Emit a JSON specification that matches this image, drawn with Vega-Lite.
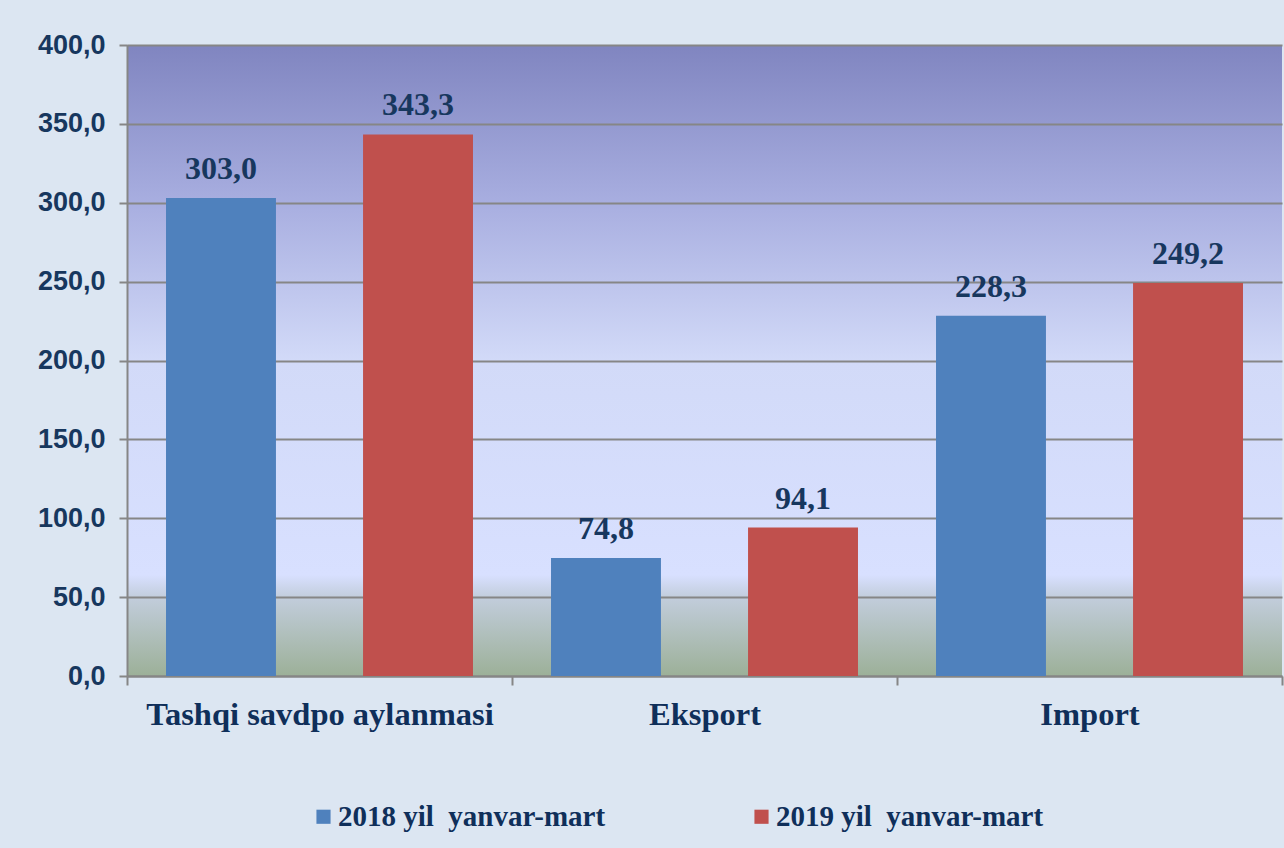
{
  "$schema": "https://vega.github.io/schema/vega-lite/v6.json",
  "width": 1155,
  "height": 631,
  "autosize": "none",
  "padding": {"left": 127, "top": 45, "right": 2, "bottom": 172},
  "background": "#dce6f2",
  "data": {
    "values": [
      {"category": "Tashqi savdpo aylanmasi", "period": "2018 yil\u00a0 yanvar-mart", "value": 303.0},
      {"category": "Tashqi savdpo aylanmasi", "period": "2019 yil\u00a0 yanvar-mart", "value": 343.3},
      {"category": "Eksport", "period": "2018 yil\u00a0 yanvar-mart", "value": 74.8},
      {"category": "Eksport", "period": "2019 yil\u00a0 yanvar-mart", "value": 94.1},
      {"category": "Import", "period": "2018 yil\u00a0 yanvar-mart", "value": 228.3},
      {"category": "Import", "period": "2019 yil\u00a0 yanvar-mart", "value": 249.2}
    ]
  },
  "encoding": {
    "x": {
      "field": "category",
      "type": "nominal",
      "sort": ["Tashqi savdpo aylanmasi", "Eksport", "Import"],
      "scale": {"paddingInner": 0, "paddingOuter": 0},
      "axis": {
        "title": null,
        "labelAngle": 0,
        "labelFont": "Liberation Serif",
        "labelFontWeight": "bold",
        "labelFontSize": 32.5,
        "labelColor": "#0f2f5a",
        "labelPadding": 13,
        "labelLimit": 600,
        "domainColor": "#868686",
        "domainWidth": 2,
        "tickColor": "#868686",
        "tickWidth": 2,
        "tickSize": 9,
        "tickBand": "extent",
        "grid": false
      }
    },
    "xOffset": {
      "field": "period",
      "type": "nominal",
      "scale": {"paddingInner": 0.442, "paddingOuter": 0.198}
    },
    "y": {
      "field": "value",
      "type": "quantitative",
      "scale": {"domain": [0, 400], "nice": false},
      "axis": {
        "title": null,
        "values": [0, 50, 100, 150, 200, 250, 300, 350, 400],
        "format": ".1f",
        "labelFont": "Liberation Sans",
        "labelFontWeight": "bold",
        "labelFontSize": 27,
        "labelColor": "#17375e",
        "labelPadding": 14,
        "domainColor": "#868686",
        "domainWidth": 2,
        "tickColor": "#868686",
        "tickWidth": 2,
        "tickSize": 8,
        "grid": true,
        "gridColor": "#868686",
        "gridWidth": 2,
        "gridOpacity": 1
      }
    }
  },
  "layer": [
    {
      "mark": {"type": "bar"},
      "encoding": {
        "color": {
          "field": "period",
          "type": "nominal",
          "scale": {"range": ["#4f81bd", "#c0504d"]},
          "legend": {
            "title": null,
            "orient": "none",
            "legendX": 182,
            "legendY": 757,
            "direction": "horizontal",
            "symbolType": "square",
            "symbolSize": 200,
            "symbolStrokeWidth": 0,
            "symbolOpacity": 1,
            "labelFont": "Liberation Serif",
            "labelFontWeight": "bold",
            "labelFontSize": 29,
            "labelColor": "#0f2f5a",
            "labelLimit": 700,
            "labelOffset": 0,
            "columnPadding": 141
          }
        }
      }
    },
    {
      "mark": {
        "type": "text",
        "baseline": "bottom",
        "dy": -12,
        "font": "Liberation Serif",
        "fontWeight": "bold",
        "fontSize": 32,
        "color": "#17375e"
      },
      "encoding": {
        "text": {"field": "value", "type": "quantitative", "format": ".1f"}
      }
    }
  ],
  "config": {
    "locale": {
      "number": {"decimal": ",", "thousands": " ", "grouping": [3], "currency": ["", ""]}
    },
    "view": {
      "stroke": null,
      "fill": {
        "gradient": "linear",
        "x1": 0, "y1": 0, "x2": 0, "y2": 1,
        "stops": [
          {"offset": 0, "color": "#8085c0"},
          {"offset": 0.25, "color": "#a8aee0"},
          {"offset": 0.5, "color": "#d2daf8"},
          {"offset": 0.84, "color": "#d8e0ff"},
          {"offset": 0.875, "color": "#c2cddc"},
          {"offset": 1, "color": "#9cb098"}
        ]
      }
    }
  }
}
